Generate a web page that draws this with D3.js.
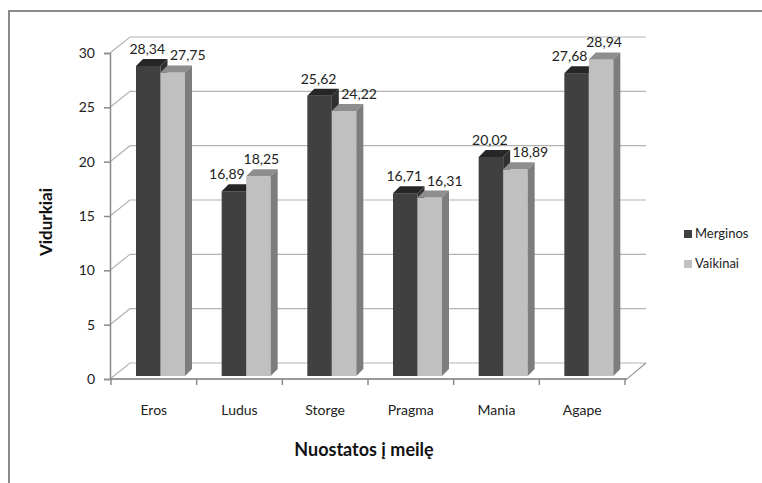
<!DOCTYPE html>
<html>
<head>
<meta charset="utf-8">
<script src="https://cdn.jsdelivr.net/npm/d3@7"></script>
<style>
  html, body { margin: 0; padding: 0; background: #fff; }
  svg { display: block; }
  text { font-family: Lato, "Open Sans", sans-serif; }
</style>
</head>
<body>
<svg id="chart" width="762" height="483"></svg>
<script>
const categories = ["Eros", "Ludus", "Storge", "Pragma", "Mania", "Agape"];
const seriesNames = ["Merginos", "Vaikinai"];
const merginos = [28.34, 16.89, 25.62, 16.71, 20.02, 27.68];
const vaikinai = [27.75, 18.25, 24.22, 16.31, 18.89, 28.94];
const yTicks = [0, 5, 10, 15, 20, 25, 30];
const xTitle = "Nuostatos į meilę";
const yTitle = "Vidurkiai";

const svg = d3.select("#chart");

// frame
svg.append("path").attr("d", "M9,483 L9,11 L762,11")
  .attr("fill", "none").attr("stroke", "#8a8a8a").attr("stroke-width", 2);

// 3D geometry
const depthX = 20, depthY = -16;
const x = d3.scaleBand().domain(categories).range([111, 625]).paddingInner(0).paddingOuter(0);
const y = d3.scaleLinear().domain([0, 30]).range([379, 53]);
const yBar = d3.scaleLinear().domain([0, 30]).range([376, 376 - 328.2]);

const grid = svg.append("g");
yTicks.forEach(t => {
  const yf = y(t);
  grid.append("path")
    .attr("d", `M${110},${yf} L${110 + depthX},${yf + depthY} L${646},${yf + depthY}`)
    .attr("fill", "none").attr("stroke", "#b3b3b3").attr("stroke-width", 1.2);
});
grid.append("path")
  .attr("d", `M110,${y(0)} L627,${y(0)} L${627 + depthX - 1},${y(0) + depthY}`)
  .attr("fill", "none").attr("stroke", "#9a9a9a").attr("stroke-width", 1.2);

// y axis
const yAxis = d3.axisLeft(y).tickValues(yTicks).tickSize(6).tickPadding(9).tickFormat(d3.format("d"));
const gy = svg.append("g").attr("transform", "translate(110,0)").call(yAxis);
gy.select(".domain").attr("stroke", "#8a8a8a").attr("stroke-width", 1.5);
gy.selectAll(".tick line").attr("stroke", "#8a8a8a").attr("stroke-width", 1.5);
gy.selectAll(".tick text").attr("font-size", 14).attr("fill", "#222")
  .attr("font-family", "Lato, sans-serif");

// x axis ticks at category boundaries
const bounds = categories.map(c => x(c)).concat([x(categories[categories.length - 1]) + x.bandwidth()]);
svg.append("g").selectAll("line").data(bounds).join("line")
  .attr("x1", d => d).attr("x2", d => d).attr("y1", y(0)).attr("y2", y(0) + 6)
  .attr("stroke", "#8a8a8a").attr("stroke-width", 1.5);
svg.append("line").attr("x1", 110).attr("x2", 627).attr("y1", y(0)).attr("y2", y(0))
  .attr("stroke", "#8a8a8a").attr("stroke-width", 1.5);

// category labels
svg.append("g").selectAll("text").data(categories).join("text")
  .attr("x", d => x(d) + x.bandwidth() / 2).attr("y", 415)
  .attr("text-anchor", "middle").attr("font-size", 14).attr("fill", "#222")
  .text(d => d);

// bars
const barW = 24.5, barOffset = 25, bdx = 7, bdy = -7;
const series = [
  { name: seriesNames[0], values: merginos, front: "#404040", top: "#262626", side: "#303030", idx: 0 },
  { name: seriesNames[1], values: vaikinai, front: "#c0c0c0", top: "#8e8e8e", side: "#7d7d7d", idx: 1 }
];
const bars = svg.append("g");
categories.forEach((c, i) => {
  series.forEach(s => {
    const v = s.values[i];
    const x0 = x(c) + barOffset + s.idx * barW;
    const x1 = x0 + barW;
    const yt = yBar(v), yb = yBar(0);
    const g = bars.append("g");
    g.append("rect").attr("x", x0).attr("y", yt).attr("width", barW).attr("height", yb - yt).attr("fill", s.front);
    g.append("path").attr("d", `M${x0},${yt} L${x0 + bdx},${yt + bdy} L${x1 + bdx},${yt + bdy} L${x1},${yt} Z`).attr("fill", s.top);
    g.append("path").attr("d", `M${x1},${yt} L${x1 + bdx},${yt + bdy} L${x1 + bdx},${yb + bdy} L${x1},${yb} Z`).attr("fill", s.side);
  });
});

// value labels (spread apart like the spreadsheet's overlap avoidance)
const labels = svg.append("g");
categories.forEach((c, i) => {
  const lightHigher = vaikinai[i] > merginos[i];
  series.forEach(s => {
    const v = s.values[i];
    const x0 = x(c) + barOffset + s.idx * barW;
    const dx = s.idx === 0 ? (lightHigher ? -7 : -1) : (lightHigher ? 3 : 15);
    labels.append("text")
      .attr("x", x0 + barW / 2 + dx)
      .attr("y", yBar(v) - 12)
      .attr("text-anchor", "middle").attr("font-size", 14).attr("fill", "#222")
      .text(d3.format(".2f")(v).replace(".", ","));
  });
});

// legend
const legend = svg.append("g");
series.forEach((s, k) => {
  const ly = 238 + k * 30;
  legend.append("rect").attr("x", 684).attr("y", ly - 8).attr("width", 8).attr("height", 8).attr("fill", s.front);
  legend.append("text").attr("x", 695).attr("y", ly).attr("font-size", 13).attr("fill", "#222").text(s.name);
});

// axis titles
svg.append("text").attr("x", 364).attr("y", 456).attr("text-anchor", "middle")
  .attr("font-size", 18).attr("font-weight", "bold").attr("fill", "#111").text(xTitle);
svg.append("text").attr("transform", "translate(52,222) rotate(-90)").attr("text-anchor", "middle")
  .attr("font-size", 17).attr("font-weight", "bold").attr("fill", "#111").text(yTitle);
</script>
</body>
</html>
